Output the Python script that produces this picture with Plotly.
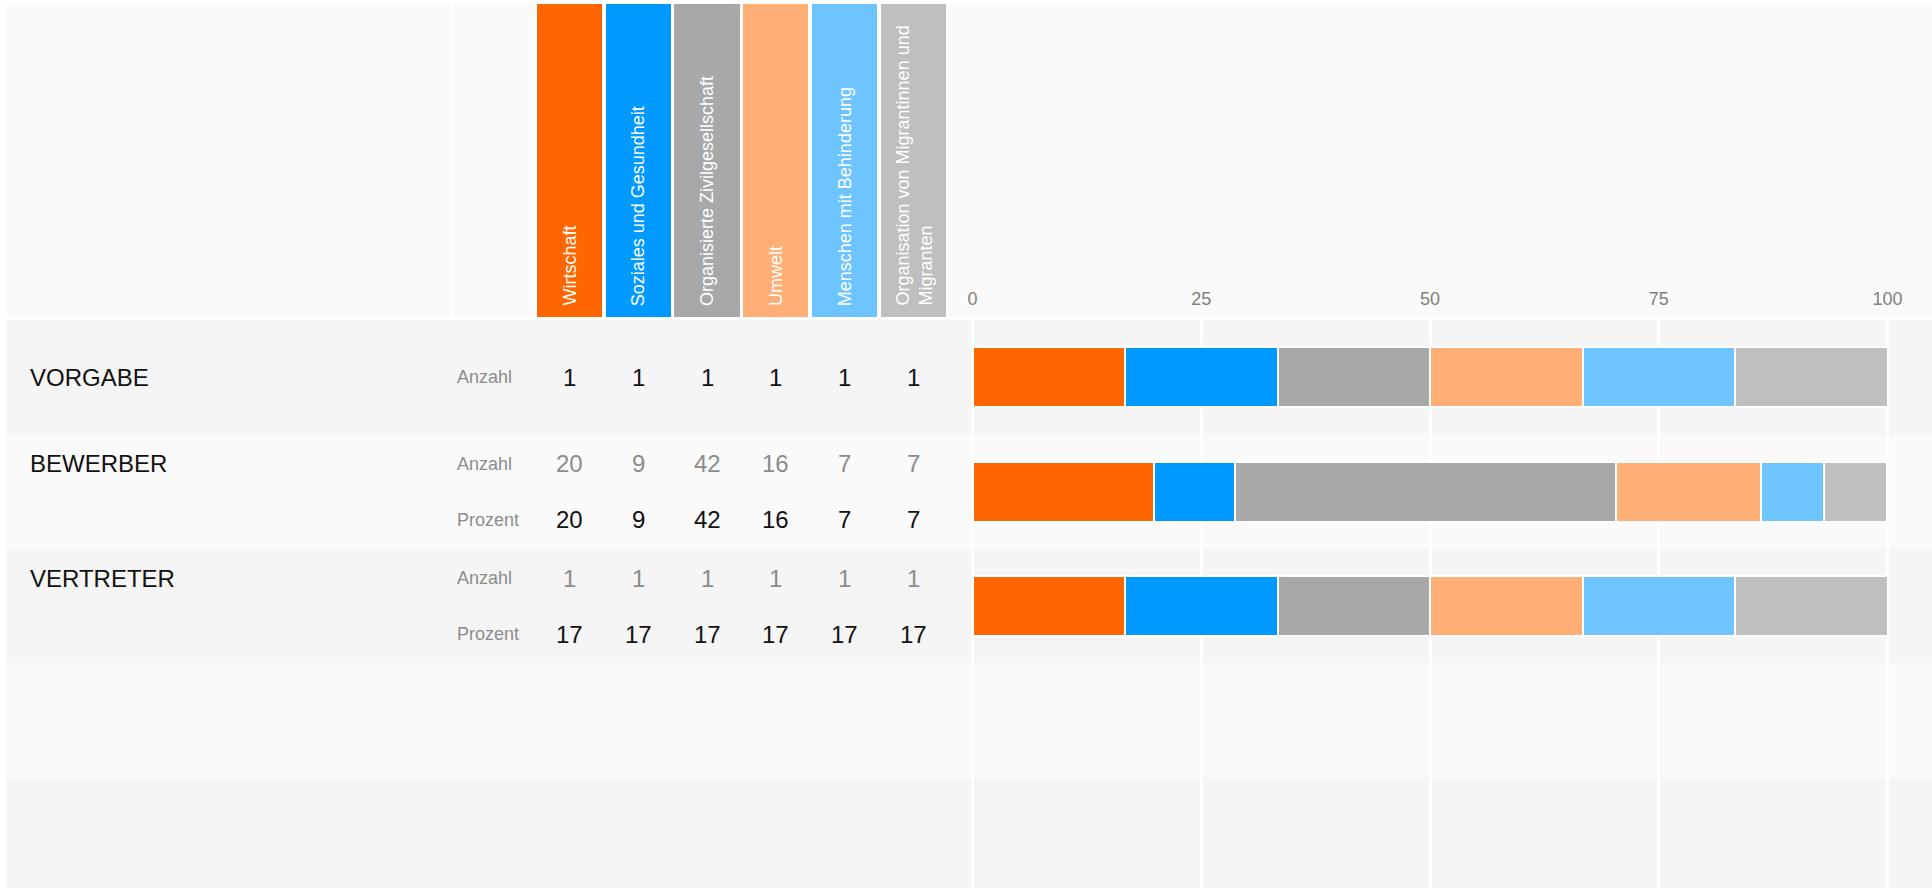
import plotly.graph_objects as go

# ---------------- data ----------------
categories = [
    "Wirtschaft",
    "Soziales und Gesundheit",
    "Organisierte Zivilgesellschaft",
    "Umwelt",
    "Menschen mit Behinderung",
    "Organisation von Migrantinnen und<br>Migranten",
]
colors = ["#ff6600", "#0099ff", "#a8a8a8", "#ffae75", "#6ec4ff", "#bfbfbf"]

rows = ["VORGABE", "BEWERBER", "VERTRETER"]

vorgabe_anzahl = [1, 1, 1, 1, 1, 1]
bewerber_anzahl = [20, 9, 42, 16, 7, 7]
bewerber_prozent = [20, 9, 42, 16, 7, 7]
vertreter_anzahl = [1, 1, 1, 1, 1, 1]
vertreter_prozent = [17, 17, 17, 17, 17, 17]

# bar shares (percent of row total)
vorgabe_share = [16.67, 16.67, 16.67, 16.67, 16.67, 16.67]
bewerber_share = [19.80, 8.91, 41.58, 15.84, 6.93, 6.93]
vertreter_share = [16.67, 16.67, 16.67, 16.67, 16.67, 16.67]

x_ticks = [0, 25, 50, 75, 100]
header_fill = [1, 1, 1, 1, 1, 1]

# ---------------- layout helpers ----------------
W, H = 1932, 888
FONT = "Liberation Sans, Arial, Helvetica, sans-serif"


def px_x(v):
    return v / W


def px_y(v):
    return 1 - v / H


shares = [vorgabe_share, bewerber_share, vertreter_share]

fig = go.Figure()

# stacked horizontal bars
for ci, cat in enumerate(categories):
    fig.add_trace(go.Bar(
        orientation="h",
        y=rows,
        x=[s[ci] for s in shares],
        name=cat,
        marker=dict(color=colors[ci], line=dict(color="white", width=2)),
        width=0.52,
        xaxis="x", yaxis="y",
        hoverinfo="skip",
        showlegend=False,
    ))

# header colour blocks (category columns)
fig.add_trace(go.Bar(
    x=categories,
    y=header_fill,
    marker=dict(color=colors, line=dict(width=0)),
    width=0.945,
    xaxis="x2", yaxis="y2",
    hoverinfo="skip",
    showlegend=False,
))

shapes = []
# header background boxes
for x0, x1 in [(6, 450), (453, 534), (949, 1932)]:
    shapes.append(dict(type="rect", xref="paper", yref="paper",
                       x0=px_x(x0), x1=px_x(x1), y0=px_y(317), y1=px_y(4),
                       fillcolor="#fafafa", line=dict(width=0), layer="below"))
# row bands
band_colors = ["#f5f5f5", "#fafafa", "#f5f5f5", "#fafafa", "#f5f5f5"]
for i, bc in enumerate(band_colors):
    shapes.append(dict(type="rect", xref="paper", yref="y",
                       x0=px_x(6), x1=1, y0=i - 0.5, y1=i + 0.5,
                       fillcolor=bc, line=dict(width=0), layer="below"))

annotations = []
# header texts (rotated)
for cat in categories:
    annotations.append(dict(
        xref="x2", yref="paper", x=cat, y=px_y(308),
        text=cat, textangle=-90, showarrow=False,
        xanchor="center", yanchor="bottom", align="left",
        font=dict(family=FONT, size=18, color="white"),
    ))

# row labels and table values
off = 0.245
table = [
    ("VORGABE", [("Anzahl", vorgabe_anzahl, "#111111", 0.0)]),
    ("BEWERBER", [("Anzahl", bewerber_anzahl, "#8c8c8c", -off),
                  ("Prozent", bewerber_prozent, "#111111", off)]),
    ("VERTRETER", [("Anzahl", vertreter_anzahl, "#8c8c8c", -off),
                   ("Prozent", vertreter_prozent, "#111111", off)]),
]
for ri, (rname, lines) in enumerate(table):
    annotations.append(dict(
        xref="paper", yref="y", x=px_x(28), y=ri + lines[0][3],
        text=rname, showarrow=False, xanchor="left", yanchor="middle",
        font=dict(family=FONT, size=24, color="#111111"),
    ))
    for label, vals, col, dy in lines:
        annotations.append(dict(
            xref="paper", yref="y", x=px_x(455), y=ri + dy,
            text=label, showarrow=False, xanchor="left", yanchor="middle",
            font=dict(family=FONT, size=18, color="#8c8c8c"),
        ))
        for cat, v in zip(categories, vals):
            annotations.append(dict(
                xref="x2", yref="y", x=cat, y=ri + dy,
                text=str(v), showarrow=False, xanchor="center", yanchor="middle",
                font=dict(family=FONT, size=24, color=col),
            ))

px_per_unit = (1887.5 - 972.5) / 100.0
x_lo = (949 - 972.5) / px_per_unit
x_hi = (1932 - 972.5) / px_per_unit
row_h = 114.5
y_hi = -0.5 + (888 - 320) / row_h

fig.update_layout(
    width=W, height=H,
    margin=dict(l=0, r=0, t=0, b=0),
    paper_bgcolor="white",
    plot_bgcolor="rgba(0,0,0,0)",
    barmode="stack",
    bargap=0,
    font=dict(family=FONT),
    xaxis=dict(
        domain=[px_x(949), 1], range=[x_lo, x_hi], side="top",
        tickvals=x_ticks, ticktext=[str(t) for t in x_ticks],
        showgrid=True, gridcolor="white", gridwidth=3,
        zeroline=False, showline=False, ticks="",
        ticklabelstandoff=10,
        tickfont=dict(family=FONT, size=18, color="#808080"),
        fixedrange=True,
    ),
    yaxis=dict(
        domain=[0, px_y(320)], range=[y_hi, -0.5],
        type="category", categoryarray=rows,
        showgrid=False, zeroline=False, showticklabels=False, ticks="",
        fixedrange=True,
    ),
    xaxis2=dict(
        domain=[px_x(535.1), px_x(947.9)], range=[-0.5, 5.5],
        type="category", categoryarray=categories, anchor="y2",
        showgrid=False, zeroline=False, showticklabels=False, ticks="",
        fixedrange=True,
    ),
    yaxis2=dict(
        domain=[px_y(317), px_y(4)], range=[0, 1], anchor="x2",
        showgrid=False, zeroline=False, showticklabels=False, ticks="",
        fixedrange=True,
    ),
    shapes=shapes,
    annotations=annotations,
)

fig.write_html(
    "out.html",
    config={"displayModeBar": False},
    post_script="document.body.style.margin='0px';document.body.style.overflow='hidden';",
)
